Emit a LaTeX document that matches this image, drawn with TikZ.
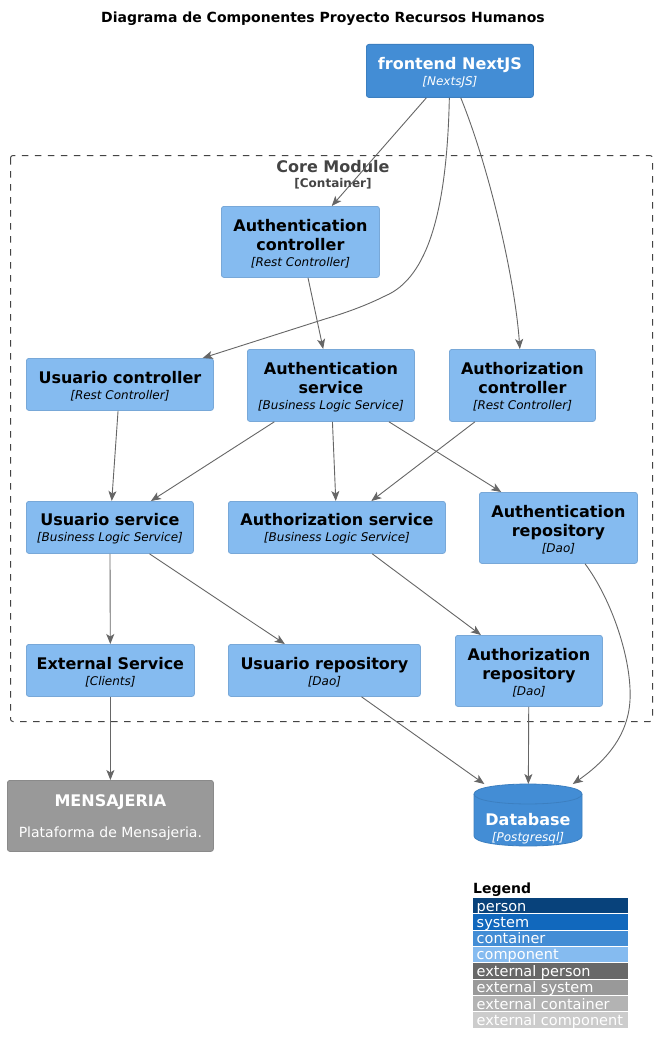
\documentclass[tikz,border=0pt]{standalone}
\usepackage{fontspec}
\setmainfont{DejaVu Sans}[BoldFont={DejaVu Sans Bold},ItalicFont={DejaVu Sans Oblique},BoldItalicFont={DejaVu Sans Bold Oblique}]
\usetikzlibrary{arrows.meta}
\definecolor{compfill}{HTML}{85BBF0}
\definecolor{compborder}{HTML}{78A8D8}
\definecolor{contfill}{HTML}{438DD5}
\definecolor{contborder}{HTML}{3C7FC0}
\definecolor{extfill}{HTML}{999999}
\definecolor{extborder}{HTML}{8A8A8A}
\definecolor{arrgray}{HTML}{666666}
\definecolor{bndgray}{HTML}{444444}
\definecolor{lgperson}{HTML}{08427B}
\definecolor{lgsystem}{HTML}{1168BD}
\definecolor{lgcontainer}{HTML}{438DD5}
\definecolor{lgcomponent}{HTML}{85BBF0}
\definecolor{lgextperson}{HTML}{686868}
\definecolor{lgextsystem}{HTML}{999999}
\definecolor{lgextcontainer}{HTML}{B3B3B3}
\definecolor{lgextcomponent}{HTML}{CCCCCC}
\newcommand{\nm}[1]{{\fontsize{16}{19}\selectfont\bfseries\rule{0pt}{15pt}#1}}
\newcommand{\nn}[1]{{\fontsize{16}{19}\selectfont\bfseries #1}}
\newcommand{\tc}[1]{{\fontsize{12}{14}\selectfont\itshape [#1]}}
\begin{document}
\begin{tikzpicture}[x=1pt,y=-1pt,
  box/.style={rectangle, rounded corners=2.5pt, align=center, inner sep=0pt, anchor=north west, line width=0.8pt, font=\fontsize{16}{19}\selectfont},
  comp/.style={box, fill=compfill, draw=compborder, text=black},
  cont/.style={box, fill=contfill, draw=contborder, text=white},
  ext/.style={box, fill=extfill, draw=extborder, text=white},
  arr/.style={draw=arrgray, line width=0.9pt, -{Stealth[length=10pt,width=8pt,inset=2.5pt]}},
  legrow/.style={rectangle, anchor=north west, inner sep=0pt, minimum width=155pt, minimum height=15.3pt},
  lgtext/.style={anchor=base west, yshift=-5.5pt, inner xsep=3.5pt, inner ysep=0pt, text=white, font=\fontsize{14.5}{16}\selectfont}
]
\useasboundingbox (0,0) rectangle (658,1054);
\fill[white] (0,0) rectangle (658,1054);

% title
\node[font=\fontsize{14}{16}\selectfont\bfseries] (title) at (323,19) {Diagrama de Componentes Proyecto Recursos Humanos};

% boundary
\draw[bndgray, line width=1pt, dash pattern=on 6.5pt off 6.5pt, rounded corners=2.5pt] (10.5,155.5) rectangle (652.5,721.5);
\node[text=bndgray, align=center, inner sep=0pt, font=\fontsize{16}{19}\selectfont] (bndlabel) at (333,174.5) {\nn{Core Module}\\[-4pt]{\fontsize{12}{14}\selectfont\bfseries [Container]}};

% nodes
\node[cont, minimum width=167pt, minimum height=53pt] (fe) at (366,44) {\nm{frontend NextJS}\\[-3pt]\tc{NextsJS}};
\node[comp, minimum width=158pt, minimum height=71pt] (ac) at (221,206) {\nm{Authentication}\\\nn{controller}\\[-3pt]\tc{Rest Controller}};
\node[comp, minimum width=187pt, minimum height=52pt] (uc) at (26,358) {\nm{Usuario controller}\\[-3pt]\tc{Rest Controller}};
\node[comp, minimum width=167pt, minimum height=72pt] (as) at (247,349) {\nm{Authentication}\\\nn{service}\\[-3pt]\tc{Business Logic Service}};
\node[comp, minimum width=146pt, minimum height=72pt] (azc) at (449,349) {\nm{Authorization}\\\nn{controller}\\[-3pt]\tc{Rest Controller}};
\node[comp, minimum width=167pt, minimum height=52pt] (us) at (26,501) {\nm{Usuario service}\\[-3pt]\tc{Business Logic Service}};
\node[comp, minimum width=217pt, minimum height=52pt] (azs) at (228,501) {\nm{Authorization service}\\[-3pt]\tc{Business Logic Service}};
\node[comp, minimum width=158pt, minimum height=71pt] (ar) at (479,492) {\nm{Authentication}\\\nn{repository}\\[-3pt]\tc{Dao}};
\node[comp, minimum width=168pt, minimum height=52pt] (es) at (26,644) {\nm{External Service}\\[-3pt]\tc{Clients}};
\node[comp, minimum width=192pt, minimum height=52pt] (ur) at (228,644) {\nm{Usuario repository}\\[-3pt]\tc{Dao}};
\node[comp, minimum width=147pt, minimum height=71pt] (azr) at (455,635) {\nm{Authorization}\\\nn{repository}\\[-3pt]\tc{Dao}};
\node[ext, minimum width=206pt, minimum height=71pt] (msg) at (7,780) {\nm{MENSAJERIA}\\[12pt]{\fontsize{14}{16}\selectfont Plataforma de Mensajeria.}};

% database cylinder
\node[rectangle, anchor=north west, inner sep=0pt, minimum width=108pt, minimum height=62pt] (db) at (474,784) {};
\filldraw[fill=contfill, draw=contborder, line width=0.8pt]
  (474,794) -- (474,836) .. controls (474,849.3) and (582,849.3) .. (582,836)
  -- (582,794) .. controls (582,780.7) and (474,780.7) .. (474,794) -- cycle;
\draw[contborder, line width=0.8pt] (474,794) .. controls (474,807.3) and (582,807.3) .. (582,794);
\node[text=white, align=center, inner sep=0pt, font=\fontsize{16}{19}\selectfont] (dblabel) at (528,827) {\nm{Database}\\[-3pt]\tc{Postgresql}};

% connectors
\draw[arr] (fe) -- (ac);
\draw[arr] (fe) .. controls (447,210) and (428,278) .. (385,296) .. controls (365,306) and (345,313) .. (325,319) -- (uc);
\draw[arr] (fe) .. controls (490,170) and (515,280) .. (azc);
\draw[arr] (ac) -- (as);
\draw[arr] (uc) -- (us);
\draw[arr] (as) -- (us);
\draw[arr] (as) -- (azs);
\draw[arr] (as) -- (ar);
\draw[arr] (azc) -- (azs);
\draw[arr] (us) -- (es);
\draw[arr] (us) -- (ur);
\draw[arr] (azs) -- (azr);
\draw[arr] (es) -- (msg);
\draw[arr] (ur) -- (db);
\draw[arr] (azr) -- (db);
\draw[arr] (ar) .. controls (612,600) and (632,660) .. (630,700) .. controls (628,740) and (600,765) .. (db);

% legend
\node[anchor=west, inner sep=0pt, font=\fontsize{14}{16}\selectfont\bfseries] (legtitle) at (473,890) {Legend};
\node[legrow, fill=lgperson, label={[lgtext]west:person}] (lg1) at (473,897.7) {};
\node[legrow, fill=lgsystem, label={[lgtext]west:system}] (lg2) at (473,914) {};
\node[legrow, fill=lgcontainer, label={[lgtext]west:container}] (lg3) at (473,930.3) {};
\node[legrow, fill=lgcomponent, label={[lgtext]west:component}] (lg4) at (473,946.6) {};
\node[legrow, fill=lgextperson, label={[lgtext]west:external person}] (lg5) at (473,963) {};
\node[legrow, fill=lgextsystem, label={[lgtext]west:external system}] (lg6) at (473,979.5) {};
\node[legrow, fill=lgextcontainer, label={[lgtext]west:external container}] (lg7) at (473,995.8) {};
\node[legrow, fill=lgextcomponent, label={[lgtext]west:external component}] (lg8) at (473,1012.2) {};
\end{tikzpicture}
\end{document}
